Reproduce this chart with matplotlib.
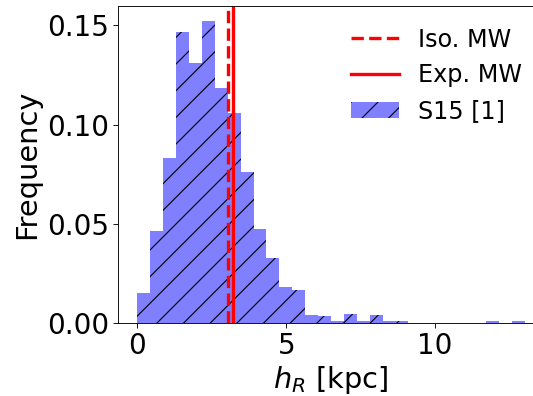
import numpy as np
import matplotlib
matplotlib.use("Agg")
import matplotlib.pyplot as plt

# ============================================================
# DATA
# ============================================================

bin_edges = np.linspace(0.0, 13.0, 31)

freq = [
    0.0150, 0.0465, 0.0829, 0.1464, 0.1308, 0.1521, 0.1182, 0.1056,
    0.0759, 0.0472, 0.0329, 0.0180, 0.0166, 0.0040, 0.0035, 0.0010,
    0.0047, 0.0010, 0.0040, 0.0010, 0.0010, 0.0, 0.0, 0.0,
    0.0, 0.0, 0.0, 0.0010, 0.0, 0.0010,
]

iso_mw = 3.03
exp_mw = 3.22

# ============================================================
# FIGURE
# ============================================================

dpi = 80
fig = plt.figure(figsize=(533 / dpi, 396 / dpi), dpi=dpi)
# axes run a little past the right edge of the figure, as in the original crop
ax = fig.add_axes([0.2214, 0.1843, 0.799, 0.8005])

centers = 0.5 * (bin_edges[:-1] + bin_edges[1:])

ax.axvline(iso_mw, color="red", linestyle="--", linewidth=3, label="Iso. MW")
ax.axvline(exp_mw, color="red", linestyle="-", linewidth=3, label="Exp. MW")

ax.hist(
    centers,
    bins=bin_edges,
    weights=freq,
    facecolor="#8080ff",
    edgecolor="black",
    linewidth=0,
    hatch="/",
    label="S15 [1]",
    zorder=1,
)

# ============================================================
# AXES
# ============================================================

ax.set_xlim(-0.65, 13.65)
ax.set_ylim(0, 0.1597)
ax.set_xticks([0, 5, 10])
ax.set_yticks([0.0, 0.05, 0.10, 0.15])
ax.set_yticklabels(["0.00", "0.05", "0.10", "0.15"])
ax.spines["right"].set_visible(False)

ax.tick_params(axis="both", labelsize=25, length=4.2)

ax.set_xlabel(r"$h_R$ [kpc]", fontsize=26)
ax.set_ylabel("Frequency", fontsize=26, labelpad=6)

ax.legend(fontsize=21.5, frameon=False, loc="upper right")

plt.savefig("out.png", dpi=dpi)
